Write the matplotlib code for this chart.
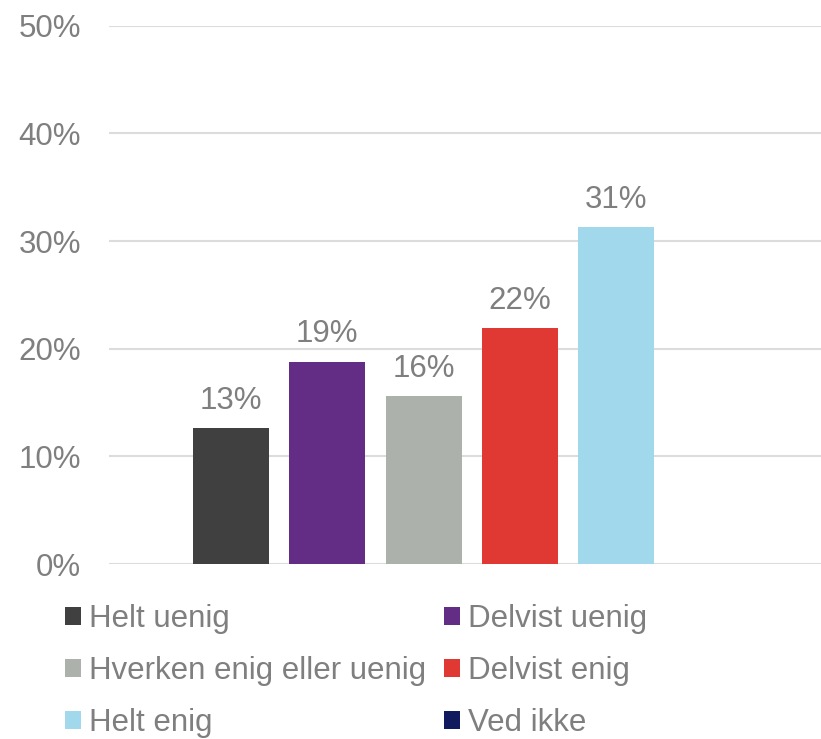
import matplotlib
matplotlib.use('Agg')
import matplotlib.pyplot as plt
from matplotlib.patches import Patch
from matplotlib.ticker import FuncFormatter

plt.rcParams['font.family'] = ['Liberation Sans', 'DejaVu Sans']

# Survey answers (share of respondents, %)
categories = ["Helt uenig", "Delvist uenig", "Hverken enig eller uenig",
              "Delvist enig", "Helt enig", "Ved ikke"]
values = [12.6, 18.8, 15.6, 21.9, 31.3, 0.0]
colors = ["#404040", "#632D86", "#ADB1AB", "#E03832", "#A2D8EB", "#121A5E"]
y_ticks = [0, 10, 20, 30, 40, 50]

TEXT_COLOR = "#7F7F7F"
GRID_COLOR = "#DCDCDC"
FS = 22.5

fig = plt.figure(figsize=(8.21, 7.39), dpi=100)
ax = fig.add_axes([109 / 821, 1 - 564 / 739, 1 - 109 / 821, (564 - 25.7) / 739])

x = list(range(len(categories)))
bars = ax.bar(x, values, width=0.79, color=colors, zorder=3)

# data labels (skip empty categories)
for rect, v in zip(bars, values):
    if v <= 0:
        continue
    ax.annotate(f"{round(v):.0f}%", (rect.get_x() + rect.get_width() / 2, v),
                xytext=(0, 9), textcoords="offset points",
                ha="center", va="bottom", fontsize=FS, color=TEXT_COLOR)

ax.set_ylim(0, 50)
ax.set_xlim(-1.268, 6.13)
ax.set_yticks(y_ticks)
ax.yaxis.set_major_formatter(FuncFormatter(lambda v, _: f"{v:.0f}%"))
ax.set_xticks([])
ax.tick_params(axis="y", length=0, pad=20, labelsize=FS, labelcolor=TEXT_COLOR)
ax.grid(axis="y", color=GRID_COLOR, linewidth=1.5, zorder=0)
for s in ax.spines.values():
    s.set_visible(False)

# legend, two columns filled row by row
handles = [Patch(facecolor=c, edgecolor="none", label=l) for c, l in zip(colors, categories)]
order = [0, 2, 4, 1, 3, 5]
leg = fig.legend([handles[i] for i in order], [categories[i] for i in order],
                 ncol=2, loc="upper left", bbox_to_anchor=(65 / 821, 1 - 604 / 739),
                 frameon=False, fontsize=FS, handlelength=0.52, handleheight=0.52,
                 handletextpad=0.25, columnspacing=0.56, labelspacing=0.7,
                 borderaxespad=0, borderpad=0)
for t in leg.get_texts():
    t.set_color(TEXT_COLOR)

fig.savefig("out.png", dpi=100)
